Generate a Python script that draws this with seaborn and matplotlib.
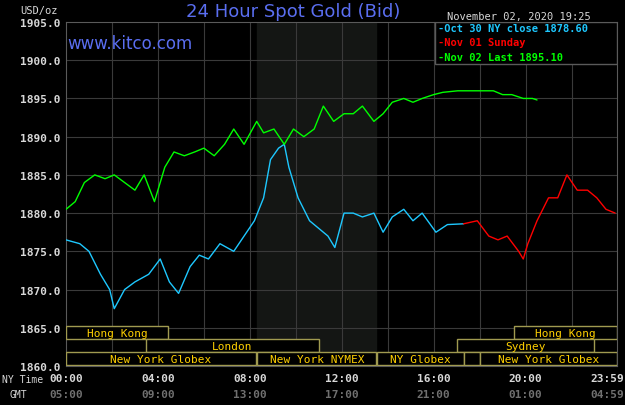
import matplotlib
matplotlib.use('Agg')
import matplotlib.pyplot as plt
import matplotlib.transforms as mtransforms
import pandas as pd
import seaborn as sns

# hours since 00:00 NY time, price in USD/oz
oct30_hours = [0, .6, 1.0, 1.5, 1.9, 2.1, 2.55, 3.0, 3.6, 4.1, 4.5, 4.9, 5.4, 5.8, 6.2, 6.7, 7.3,
               7.75, 8.2, 8.6, 8.9, 9.25, 9.5, 9.7, 10.1, 10.6, 11.0, 11.4, 11.7, 12.1, 12.5, 12.9,
               13.4, 13.8, 14.2, 14.7, 15.1, 15.5, 16.1, 16.6, 17.3]
oct30_price = [1876.5, 1876, 1875, 1872, 1870, 1867.5, 1870, 1871, 1872, 1874, 1871, 1869.5, 1873,
               1874.5, 1874, 1876, 1875, 1877, 1879, 1882, 1887, 1888.5, 1889, 1886, 1882, 1879,
               1878, 1877, 1875.5, 1880, 1880, 1879.5, 1880, 1877.5, 1879.5, 1880.5, 1879, 1880,
               1877.5, 1878.5, 1878.6]
nov01_hours = [17.3, 17.9, 18.4, 18.8, 19.2, 19.7, 19.9, 20.1, 20.5, 21.0, 21.4, 21.8, 22.25, 22.7,
               23.1, 23.5, 23.9]
nov01_price = [1878.6, 1879, 1877, 1876.5, 1877, 1875, 1874, 1876, 1879, 1882, 1882, 1885, 1883,
               1883, 1882, 1880.5, 1880]
nov02_hours = [0, .4, .8, 1.25, 1.7, 2.1, 2.55, 3.0, 3.4, 3.85, 4.3, 4.7, 5.15, 5.6, 6.0, 6.45, 6.9,
               7.3, 7.75, 8.3, 8.6, 9.05, 9.5, 9.9, 10.35, 10.8, 11.2, 11.65, 12.1, 12.5, 12.9, 13.4,
               13.8, 14.2, 14.7, 15.1, 15.5, 16.0, 16.4, 17.05, 17.9, 18.6, 19.0, 19.4, 19.9, 20.3, 20.5]
nov02_price = [1880.5, 1881.5, 1884, 1885, 1884.5, 1885, 1884, 1883, 1885, 1881.5, 1886, 1888,
               1887.5, 1888, 1888.5, 1887.5, 1889, 1891, 1889, 1892, 1890.5, 1891, 1889, 1891, 1890,
               1891, 1894, 1892, 1893, 1893, 1894, 1892, 1893, 1894.5, 1895, 1894.5, 1895, 1895.5,
               1895.8, 1896, 1896, 1896, 1895.5, 1895.5, 1895, 1895, 1894.8]

ny_ticks = ['00:00', '04:00', '08:00', '12:00', '16:00', '20:00', '23:59']
gmt_ticks = ['05:00', '09:00', '13:00', '17:00', '21:00', '01:00', '04:59']
tick_hours = [0, 4, 8, 12, 16, 20, 23.98]

# (label, start, end, row) row 0 = top
sessions = [('Hong Kong', 0, 4.43, 0), ('Hong Kong', 19.5, 23.98, 0),
            ('London', 3.5, 11.0, 1), ('Sydney', 17.0, 23.0, 1),
            ('New York Globex', 0, 8.25, 2), ('New York NYMEX', 8.33, 13.5, 2),
            ('NY Globex', 13.55, 17.3, 2), ('', 17.3, 18.0, 2), ('New York Globex', 18.0, 23.98, 2)]

mono = 'DejaVu Sans Mono'
sns.set_style('dark')
fig = plt.figure(figsize=(6.25, 4.06), dpi=100, facecolor='black')
ax = fig.add_axes([66 / 625, 1 - 367 / 406, 551 / 625, 344 / 406])
ax.set_facecolor('black')
ax.set_xlim(0, 23.98)
ax.set_ylim(1860, 1905)

ax.axvspan(8.33, 13.5, color='#141614', zorder=0)
for h in range(2, 24, 2):
    ax.axvline(h, color='#3a3a3a', lw=0.8, zorder=1)
for p in range(1865, 1905, 5):
    ax.axhline(p, color='#3a3a3a', lw=0.8, zorder=1)

df = pd.concat([
    pd.DataFrame({'hour': oct30_hours, 'price': oct30_price, 'day': 'oct30'}),
    pd.DataFrame({'hour': nov01_hours, 'price': nov01_price, 'day': 'nov01'}),
    pd.DataFrame({'hour': nov02_hours, 'price': nov02_price, 'day': 'nov02'}),
])
sns.lineplot(data=df, x='hour', y='price', hue='day', sort=False, estimator=None,
             palette={'oct30': '#1ec8ff', 'nov01': '#ff0000', 'nov02': '#00ff00'},
             lw=1.0, legend=False, ax=ax, zorder=3)

# session bars below the chart
row_h = 13 / 344 * 45
for label, a, b, row in sessions:
    y0 = 1865.2 - (row + 1) * row_h
    ax.add_patch(plt.Rectangle((a, y0), b - a, row_h, fill=True, fc='black',
                               ec='#a09a50', lw=1, zorder=4))
    if label:
        ax.text((a + b) / 2, y0 + row_h / 2, label, color='#ffd000', family=mono,
                fontsize=8, ha='center', va='center', zorder=5)

ax.set_yticks(range(1860, 1906, 5))
ax.set_yticklabels([f'{p}.0' for p in range(1860, 1906, 5)], family=mono, fontsize=8,
                   color='#d8d8d8', fontweight='bold')
ax.set_xticks([])
ax.tick_params(axis='y', length=0, pad=4)
ax.set_xlabel('')
ax.set_ylabel('')
for s in ax.spines.values():
    s.set_color('#5a5a5a')

trans = mtransforms.blended_transform_factory(ax.transData, fig.transFigure)
for h, ny, gmt in zip(tick_hours, ny_ticks, gmt_ticks):
    ha = 'right' if h > 23 else 'center'
    ax.text(h + (0.3 if h > 23 else 0), 1 - 379 / 406, ny, transform=trans, ha=ha, va='center',
            family=mono, fontsize=8, color='#d8d8d8', fontweight='bold')
    ax.text(h + (0.3 if h > 23 else 0), 1 - 395 / 406, gmt, transform=trans, ha=ha, va='center',
            family=mono, fontsize=8, color='#707070', fontweight='bold')
fig.text(2 / 625, 1 - 380 / 406, 'NY Time', family=mono, fontsize=7, color='#d8d8d8', va='center')
fig.text(10 / 625, 1 - 395 / 406, 'GMT', family=mono, fontsize=7, color='#d8d8d8', va='center')

fig.text(20 / 625, 1 - 11 / 406, 'USD/oz', family=mono, fontsize=7.5, color='#d8d8d8', va='center')
fig.text(293 / 625, 1 - 12 / 406, '24 Hour Spot Gold (Bid)', family='DejaVu Sans', fontsize=13,
         color='#5a6ef0', ha='center', va='center')
fig.text(447 / 625, 1 - 17 / 406, 'November 02, 2020 19:25', family=mono, fontsize=7.5,
         color='#d8d8d8', va='center')
fig.text(67 / 625, 1 - 44 / 406, 'www.kitco.com', family='DejaVu Sans', fontsize=12,
         color='#5a6ef0', va='center')

ax.add_patch(plt.Rectangle((0.67, 0.878), 0.33, 0.122, transform=ax.transAxes, fc='black',
                           ec='#5a5a5a', lw=1, zorder=6))
legend_rows = [('Oct 30 NY close 1878.60', '#1ec8ff'), ('Nov 01 Sunday', '#ff0000'),
               ('Nov 02 Last 1895.10', '#00ff00')]
for i, (txt, c) in enumerate(legend_rows):
    fig.text(438 / 625, 1 - (29 + i * 14.5) / 406, '-' + txt, family=mono, fontsize=7.5,
             color=c, va='center', zorder=7, fontweight='bold')

fig.savefig('out.png', dpi=100, facecolor='black')
